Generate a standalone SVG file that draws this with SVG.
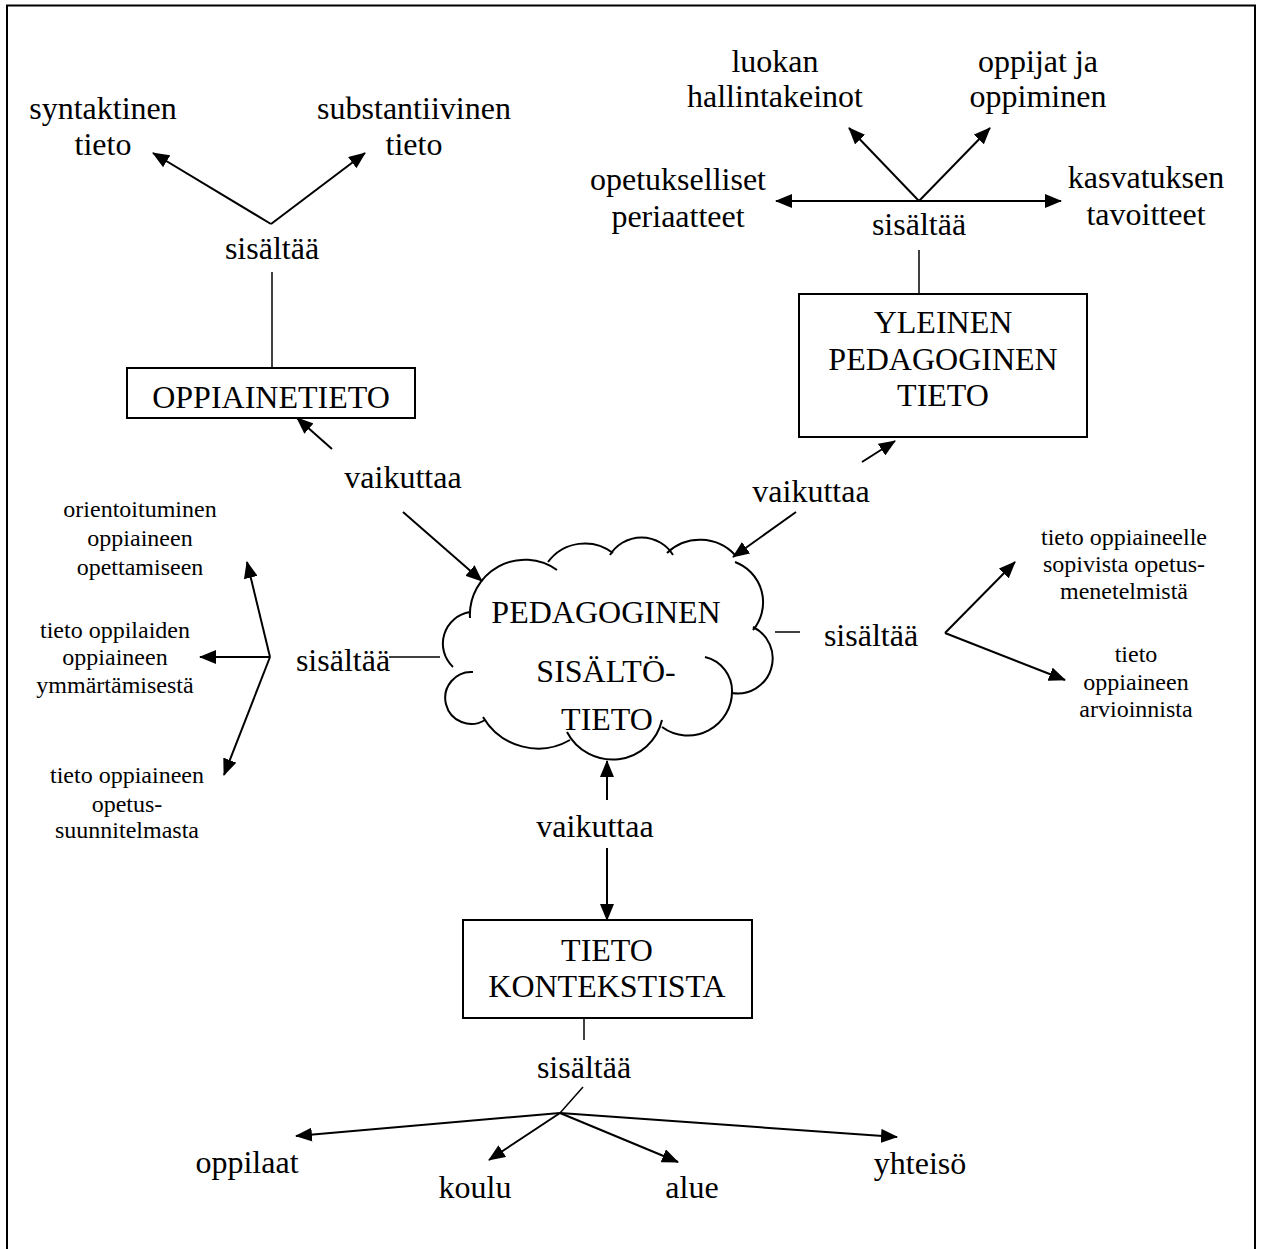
<svg xmlns="http://www.w3.org/2000/svg" width="1261" height="1249" viewBox="0 0 1261 1249">
<defs>
<marker id="ah" markerUnits="userSpaceOnUse" markerWidth="17" markerHeight="14" refX="16" refY="7" orient="auto">
<path d="M0,0 L17,7 L0,14 z" fill="#000"/>
</marker>
<style>
text{font-family:"Liberation Serif","Times New Roman",serif;fill:#000;text-anchor:middle}
.l{font-size:32px}
.s{font-size:24px}
.box{fill:#fff;stroke:#000;stroke-width:2}
.arr{stroke:#000;stroke-width:2;fill:none;marker-end:url(#ah)}
.ln{stroke:#000;stroke-width:1.5;fill:none}
.cloud{fill:none;stroke:#000;stroke-width:2}
</style>
</defs>
<rect x="0" y="0" width="1261" height="1249" fill="#fff"/>
<rect x="7" y="5.5" width="1248" height="1300" fill="none" stroke="#000" stroke-width="2"/>

<g id="connectors">
<line class="arr" x1="271" y1="224" x2="153" y2="153"/>
<line class="arr" x1="271" y1="224" x2="365" y2="153"/>
<line class="ln" x1="272" y1="272" x2="272" y2="368"/>
<line class="arr" x1="332" y1="449" x2="297" y2="418"/>
<line class="arr" x1="403" y1="512" x2="482" y2="581"/>
<line class="arr" x1="919" y1="201" x2="776" y2="201"/>
<line class="arr" x1="919" y1="201" x2="1061" y2="201"/>
<line class="arr" x1="919" y1="201" x2="849" y2="128"/>
<line class="arr" x1="919" y1="201" x2="990" y2="128"/>
<line class="ln" x1="919" y1="250" x2="919" y2="294"/>
<line class="arr" x1="862" y1="462" x2="895" y2="441"/>
<line class="arr" x1="796" y1="512" x2="733" y2="557"/>
<line class="arr" x1="270" y1="657" x2="247" y2="562"/>
<line class="arr" x1="270" y1="657" x2="200" y2="657"/>
<line class="arr" x1="270" y1="657" x2="224" y2="775"/>
<line class="ln" x1="389" y1="657" x2="440" y2="657"/>
<line class="ln" x1="775" y1="632" x2="800" y2="632"/>
<line class="arr" x1="945" y1="633" x2="1015" y2="562"/>
<line class="arr" x1="945" y1="633" x2="1065" y2="680"/>
<line class="arr" x1="607" y1="800" x2="607" y2="761"/>
<line class="arr" x1="607" y1="848" x2="607" y2="920"/>
<line class="ln" x1="584" y1="1018" x2="584" y2="1040"/>
<line class="ln" x1="583" y1="1087" x2="560" y2="1113"/>
<line class="arr" x1="560" y1="1113" x2="296" y2="1136"/>
<line class="arr" x1="560" y1="1113" x2="489" y2="1160"/>
<line class="arr" x1="560" y1="1113" x2="678" y2="1162"/>
<line class="arr" x1="560" y1="1113" x2="897" y2="1137"/>
</g>

<g id="label-sisaltaa-1"><text class="l" x="272" y="259">sisältää</text></g>
<g id="label-vaikuttaa-1"><text class="l" x="403" y="488">vaikuttaa</text></g>
<g id="label-sisaltaa-2"><text class="l" x="919" y="235">sisältää</text></g>
<g id="label-vaikuttaa-2"><text class="l" x="811" y="502">vaikuttaa</text></g>
<g id="label-sisaltaa-3"><text class="l" x="343" y="671">sisältää</text></g>
<g id="label-sisaltaa-4"><text class="l" x="871" y="646">sisältää</text></g>
<g id="label-vaikuttaa-3"><text class="l" x="595" y="837">vaikuttaa</text></g>
<g id="label-sisaltaa-5"><text class="l" x="584" y="1078">sisältää</text></g>

<g id="syntaktinen"><text class="l"><tspan x="103" y="119">syntaktinen</tspan><tspan x="103" y="155">tieto</tspan></text></g>
<g id="substantiivinen"><text class="l"><tspan x="414" y="119">substantiivinen</tspan><tspan x="414" y="155">tieto</tspan></text></g>
<g id="oppiainetieto"><rect class="box" x="127" y="368" width="288" height="50"/><text class="l" x="271" y="408">OPPIAINETIETO</text></g>

<g id="luokan"><text class="l"><tspan x="775" y="72">luokan</tspan><tspan x="775" y="107">hallintakeinot</tspan></text></g>
<g id="oppijat"><text class="l"><tspan x="1038" y="72">oppijat ja</tspan><tspan x="1038" y="107">oppiminen</tspan></text></g>
<g id="opetukselliset"><text class="l"><tspan x="678" y="190">opetukselliset</tspan><tspan x="678" y="227">periaatteet</tspan></text></g>
<g id="kasvatuksen"><text class="l"><tspan x="1146" y="188">kasvatuksen</tspan><tspan x="1146" y="225">tavoitteet</tspan></text></g>
<g id="yleinen"><rect class="box" x="799" y="294" width="288" height="143"/><text class="l"><tspan x="943" y="333">YLEINEN</tspan><tspan x="943" y="370">PEDAGOGINEN</tspan><tspan x="943" y="406">TIETO</tspan></text></g>

<g id="pck">
<path class="cloud" d="M470,618 A55,55 0 0 1 557,570 M548,562 A46,46 0 0 1 613,553 M610,555 A37,37 0 0 1 673,555 M667,553 A48,48 0 0 1 735,555 M735,562 A43,43 0 0 1 753,630 M753,627 A35,35 0 0 1 732,693 M705,657 A35,35 0 0 1 732,693 M732,690 A44,44 0 0 1 662,727 M662,720 A51,51 0 0 1 567,732 M570,740 A64,64 0 0 1 483,717 M485,720 A26,26 0 1 1 473,672 M453,667 A32,32 0 0 1 470,612"/>
<text class="l"><tspan x="606" y="623">PEDAGOGINEN</tspan><tspan x="606" y="682">SISÄLTÖ-</tspan><tspan x="607" y="730">TIETO</tspan></text>
</g>

<g id="orientoituminen"><text class="s"><tspan x="140" y="517">orientoituminen</tspan><tspan x="140" y="546">oppiaineen</tspan><tspan x="140" y="575">opettamiseen</tspan></text></g>
<g id="oppilaiden"><text class="s"><tspan x="115" y="638">tieto oppilaiden</tspan><tspan x="115" y="665">oppiaineen</tspan><tspan x="115" y="693">ymmärtämisestä</tspan></text></g>
<g id="opetussuunnitelma"><text class="s"><tspan x="127" y="783">tieto oppiaineen</tspan><tspan x="127" y="812">opetus-</tspan><tspan x="127" y="838">suunnitelmasta</tspan></text></g>

<g id="opetusmenetelmat"><text class="s"><tspan x="1124" y="545">tieto oppiaineelle</tspan><tspan x="1124" y="572">sopivista opetus-</tspan><tspan x="1124" y="599">menetelmistä</tspan></text></g>
<g id="arviointi"><text class="s"><tspan x="1136" y="662">tieto</tspan><tspan x="1136" y="690">oppiaineen</tspan><tspan x="1136" y="717">arvioinnista</tspan></text></g>

<g id="konteksti"><rect class="box" x="463" y="920" width="289" height="98"/><text class="l"><tspan x="607" y="961">TIETO</tspan><tspan x="607" y="997">KONTEKSTISTA</tspan></text></g>

<g id="oppilaat"><text class="l" x="247" y="1173">oppilaat</text></g>
<g id="koulu"><text class="l" x="475" y="1198">koulu</text></g>
<g id="alue"><text class="l" x="692" y="1198">alue</text></g>
<g id="yhteiso"><text class="l" x="920" y="1174">yhteisö</text></g>
</svg>
